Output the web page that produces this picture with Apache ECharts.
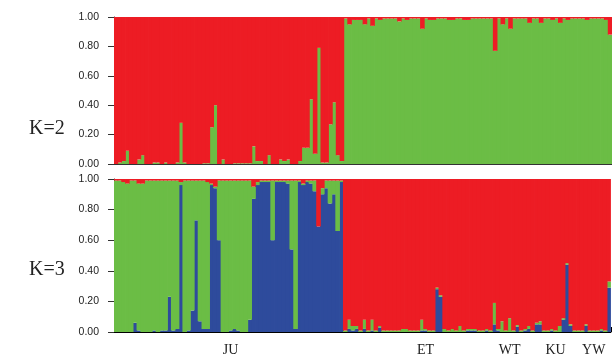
<!DOCTYPE html>
<html>
<head>
<meta charset="utf-8">
<script src="https://cdn.jsdelivr.net/npm/echarts@6/dist/echarts.min.js"></script>
<style>
  html, body { margin: 0; padding: 0; background: #fff; }
  #main { width: 612px; height: 358px; }
</style>
</head>
<body>
<div id="main"></div>
<script>
// populations, number of individuals, and where the name sits (individual index)
var groupNames = ['JU', 'ET', 'WT', 'KU', 'YW'];
var groupSizes = [60, 35, 15, 10, 10];
var groupLabelAt = [30, 81, 103, 115, 125];
var yTicks = [0, 0.2, 0.4, 0.6, 0.8, 1.0];

// K=2 membership (q) per individual
var k2Green = [
  0, 0.01, 0.02, 0.09, 0, 0, 0.03, 0.06, 0, 0,
  0.01, 0.01, 0, 0.01, 0, 0, 0.01, 0.28, 0.01, 0,
  0, 0, 0, 0.005, 0.005, 0.25, 0.40, 0, 0.03, 0,
  0, 0.005, 0.005, 0.005, 0.005, 0.005, 0.12, 0.02, 0.02, 0,
  0.06, 0, 0, 0.03, 0.02, 0.03, 0, 0, 0.02, 0.11,
  0.11, 0.44, 0.07, 0.79, 0.01, 0.01, 0.27, 0.42, 0.06, 0.02,
  // ET
  0.99, 0.95, 0.98, 0.98, 0.98, 0.95, 0.99, 0.94, 0.99, 0.98,
  0.99, 0.99, 0.99, 0.99, 0.97, 0.99, 0.98, 0.99, 0.99, 0.99,
  0.92, 0.99, 0.98, 0.98, 0.99, 0.99, 0.99, 0.98, 0.98, 0.99,
  0.99, 0.98, 0.98, 0.99, 0.99,
  // WT
  0.99, 0.99, 0.99, 0.99, 0.77, 0.99, 0.95, 0.99, 0.92, 0.99,
  0.99, 0.99, 0.99, 0.96, 0.99,
  // KU
  0.99, 0.96, 0.99, 0.99, 0.98, 0.99, 0.96, 0.99, 0.98, 0.99,
  // YW
  0.99, 0.99, 0.99, 0.98, 0.99, 0.99, 0.99, 0.99, 0.98, 0.88
];
var k2Red = [
  1, 0.99, 0.98, 0.91, 1, 1, 0.97, 0.94, 1, 1,
  0.99, 0.99, 1, 0.99, 1, 1, 0.99, 0.72, 0.99, 1,
  1, 1, 1, 0.995, 0.995, 0.75, 0.60, 1, 0.97, 1,
  1, 0.995, 0.995, 0.995, 0.995, 0.995, 0.88, 0.98, 0.98, 1,
  0.94, 1, 1, 0.97, 0.98, 0.97, 1, 1, 0.98, 0.89,
  0.89, 0.56, 0.93, 0.21, 0.99, 0.99, 0.73, 0.58, 0.94, 0.98,
  0.01, 0.05, 0.02, 0.02, 0.02, 0.05, 0.01, 0.06, 0.01, 0.02,
  0.01, 0.01, 0.01, 0.01, 0.03, 0.01, 0.02, 0.01, 0.01, 0.01,
  0.08, 0.01, 0.02, 0.02, 0.01, 0.01, 0.01, 0.02, 0.02, 0.01,
  0.01, 0.02, 0.02, 0.01, 0.01,
  0.01, 0.01, 0.01, 0.01, 0.23, 0.01, 0.05, 0.01, 0.08, 0.01,
  0.01, 0.01, 0.01, 0.04, 0.01,
  0.01, 0.04, 0.01, 0.01, 0.02, 0.01, 0.04, 0.01, 0.02, 0.01,
  0.01, 0.01, 0.01, 0.02, 0.01, 0.01, 0.01, 0.01, 0.02, 0.12
];

// K=3 membership (q) per individual
var k3Blue = [
  0, 0, 0, 0, 0, 0.06, 0.01, 0, 0, 0,
  0.01, 0, 0.01, 0.01, 0.23, 0.01, 0.02, 0.96, 0, 0.01,
  0.14, 0.73, 0.07, 0.02, 0.02, 0.96, 0.94, 0.60, 0, 0,
  0.01, 0.02, 0.01, 0, 0, 0.08, 0.87, 0.96, 0.98, 0.98,
  0.98, 0.60, 0.98, 0.98, 0.98, 0.97, 0.54, 0.02, 0.98, 0.96,
  0.98, 0.97, 0.92, 0.69, 0.90, 0.94, 0.84, 0.90, 0.66, 0.98,
  0, 0.02, 0.01, 0.02, 0, 0.02, 0, 0.01, 0, 0.03,
  0, 0, 0, 0, 0, 0, 0, 0, 0, 0,
  0.01, 0.01, 0, 0, 0.28, 0.23, 0, 0, 0, 0,
  0, 0, 0.01, 0.01, 0.01,
  0, 0, 0.01, 0, 0.05, 0.01, 0, 0, 0, 0,
  0.035, 0, 0.01, 0.02, 0,
  0.05, 0.05, 0, 0, 0.01, 0, 0, 0.08, 0.44, 0.04,
  0, 0, 0, 0.04, 0, 0, 0, 0.01, 0, 0.29
];
var k3Green = [
  0.99, 0.99, 0.98, 0.97, 0.99, 0.93, 0.96, 0.97, 0.99, 0.99,
  0.98, 0.99, 0.98, 0.98, 0.76, 0.98, 0.97, 0.02, 0.99, 0.98,
  0.85, 0.26, 0.92, 0.97, 0.96, 0.01, 0.01, 0.39, 0.99, 0.99,
  0.98, 0.97, 0.98, 0.99, 0.99, 0.91, 0.08, 0.02, 0.01, 0.01,
  0.01, 0.39, 0.01, 0.01, 0.01, 0.02, 0.45, 0.97, 0.01, 0.01,
  0.01, 0.02, 0.07, 0.00, 0.04, 0.05, 0.15, 0.09, 0.33, 0.01,
  0.01, 0.06, 0.03, 0.02, 0.01, 0.06, 0.01, 0.07, 0.01, 0.01,
  0.01, 0.01, 0.01, 0.01, 0.01, 0.02, 0.02, 0.01, 0.01, 0.01,
  0.07, 0.01, 0.01, 0.01, 0.01, 0.01, 0.02, 0.01, 0.02, 0.01,
  0.04, 0.01, 0.01, 0.01, 0.01,
  0.01, 0.01, 0.01, 0.01, 0.14, 0.01, 0.07, 0.01, 0.09, 0.01,
  0.01, 0.01, 0.01, 0.02, 0.01,
  0.01, 0.02, 0.01, 0.01, 0.01, 0.01, 0.04, 0.01, 0.01, 0.01,
  0.01, 0.01, 0.01, 0.01, 0.01, 0.01, 0.01, 0.01, 0.01, 0.04
];
var k3Red = [
  0.01, 0.01, 0.02, 0.03, 0.01, 0.01, 0.03, 0.03, 0.01, 0.01,
  0.01, 0.01, 0.01, 0.01, 0.01, 0.01, 0.01, 0.02, 0.01, 0.01,
  0.01, 0.01, 0.01, 0.01, 0.02, 0.03, 0.05, 0.01, 0.01, 0.01,
  0.01, 0.01, 0.01, 0.01, 0.01, 0.01, 0.05, 0.02, 0.01, 0.01,
  0.01, 0.01, 0.01, 0.01, 0.01, 0.01, 0.01, 0.01, 0.01, 0.03,
  0.01, 0.01, 0.01, 0.31, 0.06, 0.01, 0.01, 0.01, 0.01, 0.01,
  0.99, 0.92, 0.96, 0.96, 0.99, 0.92, 0.99, 0.92, 0.99, 0.96,
  0.99, 0.99, 0.99, 0.99, 0.99, 0.98, 0.98, 0.99, 0.99, 0.99,
  0.92, 0.98, 0.99, 0.99, 0.71, 0.76, 0.98, 0.99, 0.98, 0.99,
  0.96, 0.99, 0.98, 0.98, 0.98,
  0.99, 0.99, 0.98, 0.99, 0.81, 0.98, 0.93, 0.99, 0.91, 0.99,
  0.955, 0.99, 0.98, 0.96, 0.99,
  0.94, 0.93, 0.99, 0.99, 0.98, 0.99, 0.96, 0.91, 0.55, 0.95,
  0.99, 0.99, 0.99, 0.95, 0.99, 0.99, 0.99, 0.98, 0.99, 0.67
];

var RED = '#ED1C24', GREEN = '#6BBD45', BLUE = '#2E4B9C';

// category per individual; group name only on the chosen individual
var ids = [], groupLabels = [], boundaries = [];
var n = 0;
groupNames.forEach(function(g, gi) {
    if (gi > 0) boundaries.push(n);
    for (var j = 0; j < groupSizes[gi]; j++) {
        ids.push(g + (j + 1));
        groupLabels.push(n === groupLabelAt[gi] ? g : '');
        n++;
    }
});

function yAxis(gridIndex) {
    return {
        type: 'value', gridIndex: gridIndex, min: yTicks[0], max: yTicks[yTicks.length - 1], interval: 0.2,
        splitLine: { show: false },
        axisLine: { show: true, lineStyle: { color: '#333', width: 1 } },
        axisTick: { show: true, length: 6, lineStyle: { color: '#333' } },
        axisLabel: {
            margin: 15, color: '#222', fontSize: 10.5, fontFamily: 'Liberation Sans',
            formatter: function(v) { return v.toFixed(2); }
        }
    };
}

function bars(name, data, color, axisIndex, stack) {
    return {
        name: name, type: 'bar', data: data, stack: stack,
        xAxisIndex: axisIndex, yAxisIndex: axisIndex,
        // a bit wider than the 3.84px band so neighbours overlap (no seams)
        barWidth: 4.6, barGap: '-100%',
        itemStyle: { color: color },
        silent: true
    };
}

var chart = echarts.init(document.getElementById('main'));
chart.setOption({
    animation: false,
    backgroundColor: '#fff',
    title: [
        { text: 'K=2', left: 24, top: 114,
          textStyle: { fontFamily: 'Liberation Serif', fontSize: 20, fontWeight: 'normal', color: '#222' } },
        { text: 'K=3', left: 24, top: 255,
          textStyle: { fontFamily: 'Liberation Serif', fontSize: 20, fontWeight: 'normal', color: '#222' } }
    ],
    grid: [
        { left: 114, right: -1, top: 17, height: 147 },
        { left: 114, right: -1, top: 179, height: 153 }
    ],
    xAxis: [
        { type: 'category', gridIndex: 0, data: ids,
          axisLine: { lineStyle: { color: '#333' } },
          axisTick: { show: false }, axisLabel: { show: false } },
        { type: 'category', gridIndex: 1, data: groupLabels, offset: 3,
          axisLine: { lineStyle: { color: '#000', width: 1 } },
          axisTick: { show: true, inside: true, length: 5, lineStyle: { color: '#000' },
                      interval: function(i) { return boundaries.indexOf(i) >= 0; } },
          axisLabel: { interval: 0, margin: 8, color: '#222', fontSize: 14, fontFamily: 'Liberation Serif' } }
    ],
    yAxis: [yAxis(0), yAxis(1)],
    series: [
        bars('K2 cluster 1', k2Green, GREEN, 0, 'k2'),
        bars('K2 cluster 2', k2Red, RED, 0, 'k2'),
        bars('K3 cluster 1', k3Blue, BLUE, 1, 'k3'),
        bars('K3 cluster 2', k3Green, GREEN, 1, 'k3'),
        bars('K3 cluster 3', k3Red, RED, 1, 'k3')
    ]
});
</script>
</body>
</html>
